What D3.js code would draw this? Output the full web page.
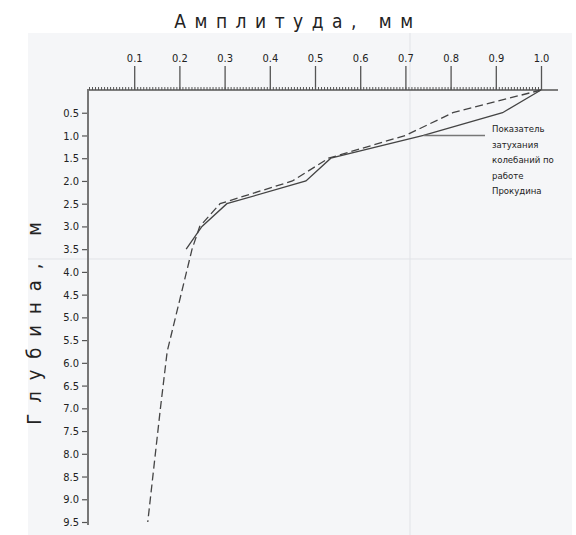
<!DOCTYPE html>
<html lang="ru">
<head>
<meta charset="UTF-8">
<script src="https://d3js.org/d3.v7.min.js"></script>
<style>
  body { margin: 0; background: #fff; }
  svg text { font-family: "DejaVu Sans Condensed", "DejaVu Sans", sans-serif; fill: #222; }
</style>
</head>
<body>
<div id="chart"></div>
<script>
// Data
const ampTicks = [0.1, 0.2, 0.3, 0.4, 0.5, 0.6, 0.7, 0.8, 0.9, 1.0];
const depthTicks = [0.5, 1.0, 1.5, 2.0, 2.5, 3.0, 3.5, 4.0, 4.5, 5.0, 5.5, 6.0, 6.5, 7.0, 7.5, 8.0, 8.5, 9.0, 9.5];

// Prokudin (solid)
const prokDepth = [0, 0.5, 1.0, 1.5, 2.0, 2.5, 3.0, 3.5];
const prokAmp = [1.0, 0.915, 0.74, 0.535, 0.48, 0.305, 0.25, 0.215];

// measured (dashed)
const measDepth = [0, 0.5, 1.0, 1.5, 2.0, 2.5, 3.0, 3.5, 5.75, 7.0, 9.5];
const measAmp = [1.0, 0.805, 0.70, 0.53, 0.45, 0.29, 0.245, 0.228, 0.173, 0.158, 0.13];

const labelLines = ["Показатель", "затухания", "колебаний по", "работе", "Прокудина"];

const width = 576, height = 535;

const svg = d3.select("#chart").append("svg")
  .attr("width", width)
  .attr("height", height);

// panel background
svg.append("rect")
  .attr("x", 28).attr("y", 33)
  .attr("width", 544).attr("height", 502)
  .attr("fill", "#f5f6f8");

const x = d3.scaleLinear().domain([0, 1]).range([89, 541]);
const y = d3.scaleLinear().domain([0, 9.5]).range([90, 522]);

// faint crosshair lines
svg.append("line")
  .attr("x1", 410).attr("x2", 410).attr("y1", 33).attr("y2", 535)
  .attr("stroke", "#e1e3e7").attr("stroke-width", 1);
svg.append("line")
  .attr("x1", 28).attr("x2", 572).attr("y1", 259).attr("y2", 259)
  .attr("stroke", "#e1e3e7").attr("stroke-width", 1);

// top axis: minor ticks
const minor = d3.range(0, 150).map(i => i / 150);
svg.append("g")
  .attr("transform", "translate(0,90)")
  .call(d3.axisTop(x).tickValues(minor).tickSize(3).tickFormat(""))
  .call(g => g.select(".domain").remove())
  .call(g => g.selectAll("line").attr("stroke", "#555").attr("stroke-width", 1));

// top axis: major ticks
svg.append("g")
  .attr("transform", "translate(0,90)")
  .call(d3.axisTop(x).tickValues(ampTicks).tickSize(24).tickPadding(4).tickFormat(d3.format(".1f")))
  .call(g => g.select(".domain").remove())
  .call(g => g.selectAll("line").attr("stroke", "#555").attr("stroke-width", 1.3))
  .call(g => g.selectAll("text").attr("font-size", 11));

svg.append("line")
  .attr("x1", 87).attr("x2", 558).attr("y1", 90).attr("y2", 90)
  .attr("stroke", "#555").attr("stroke-width", 1.5);

// left axis
svg.append("g")
  .attr("transform", "translate(88,0)")
  .call(d3.axisLeft(y).tickValues(depthTicks).tickSize(6).tickPadding(3).tickFormat(d3.format(".1f")))
  .call(g => g.select(".domain").remove())
  .call(g => g.selectAll("line").attr("stroke", "#555").attr("stroke-width", 1.2))
  .call(g => g.selectAll("text").attr("font-size", 11));

svg.append("line")
  .attr("x1", 88).attr("x2", 88).attr("y1", 89).attr("y2", 525)
  .attr("stroke", "#777").attr("stroke-width", 2);

// lines
const line = d3.line().x(d => x(d[1])).y(d => y(d[0]));

svg.append("path")
  .datum(measDepth.map((d, i) => [d, measAmp[i]]))
  .attr("d", line)
  .attr("fill", "none")
  .attr("stroke", "#444")
  .attr("stroke-width", 1.3)
  .attr("stroke-dasharray", "8,4");

svg.append("path")
  .datum(prokDepth.map((d, i) => [d, prokAmp[i]]))
  .attr("d", line)
  .attr("fill", "none")
  .attr("stroke", "#444")
  .attr("stroke-width", 1.3);

// leader line to label
svg.append("line")
  .attr("x1", x(prokAmp[2])).attr("x2", 485)
  .attr("y1", y(prokDepth[2])).attr("y2", y(prokDepth[2]))
  .attr("stroke", "#777").attr("stroke-width", 1.5);

svg.append("text")
  .attr("x", 492).attr("y", 132)
  .attr("font-size", 9.5)
  .selectAll("tspan")
  .data(labelLines)
  .join("tspan")
  .attr("x", 492)
  .attr("dy", (d, i) => i === 0 ? 0 : 15.5)
  .text(d => d);

// titles
svg.append("text")
  .attr("x", 298).attr("y", 28)
  .attr("text-anchor", "middle")
  .attr("font-size", 19)
  .attr("letter-spacing", 8.5)
  .text("Амплитуда,  мм");

svg.append("text")
  .attr("transform", "translate(41,318) rotate(-90)")
  .attr("text-anchor", "middle")
  .attr("font-size", 20)
  .attr("letter-spacing", 11)
  .text("Глубина,  м");
</script>
</body>
</html>
